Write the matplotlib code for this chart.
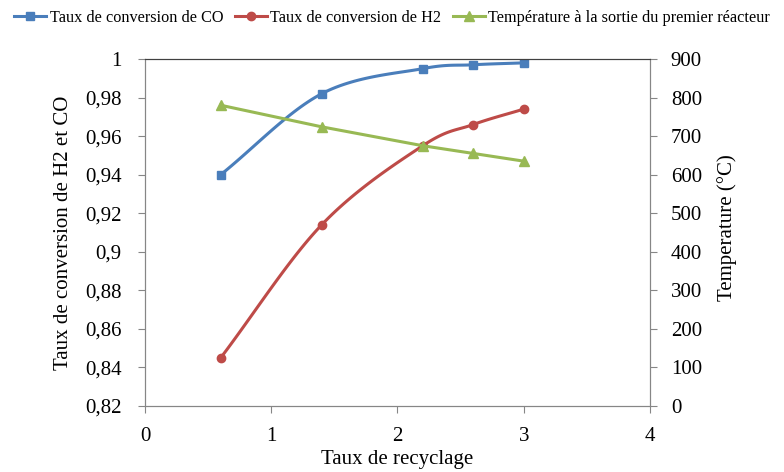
import numpy as np
import matplotlib
matplotlib.use('Agg')
import matplotlib.pyplot as plt
from matplotlib.ticker import FuncFormatter, MultipleLocator

plt.rcParams['font.family'] = ['Liberation Serif', 'DejaVu Serif']

# data
recyclage = [0.6, 1.4, 2.2, 2.6, 3.0]
conv_co = [0.940, 0.982, 0.995, 0.997, 0.998]
conv_h2 = [0.845, 0.914, 0.955, 0.966, 0.974]
temperature = [780, 724, 675, 655, 635]

blue = '#4A7EBB'
red = '#BE4B48'
green = '#98B954'
grey = '#868686'


def smooth(x, y, n=30):
    # Catmull-Rom curve through the points (like Excel "smoothed line")
    x = np.asarray(x, float)
    y = np.asarray(y, float)
    px = np.concatenate([[2 * x[0] - x[1]], x, [2 * x[-1] - x[-2]]])
    py = np.concatenate([[2 * y[0] - y[1]], y, [2 * y[-1] - y[-2]]])
    t = np.linspace(0, 1, n)
    xs, ys = [], []
    for i in range(1, len(px) - 2):
        for p, out in ((px, xs), (py, ys)):
            p0, p1, p2, p3 = p[i - 1], p[i], p[i + 1], p[i + 2]
            out.append(0.5 * (2 * p1 + (-p0 + p2) * t
                              + (2 * p0 - 5 * p1 + 4 * p2 - p3) * t ** 2
                              + (-p0 + 3 * p1 - 3 * p2 + p3) * t ** 3))
    return np.concatenate(xs), np.concatenate(ys)


fig = plt.figure(figsize=(7.84, 4.72), dpi=100)
ax = fig.add_axes([0.185, 0.140, 0.644, 0.735])
ax2 = ax.twinx()

sx, sy = smooth(recyclage, conv_co)
ax.plot(sx, sy, color=blue, lw=2.2)
ax.plot(recyclage, conv_co, 's', color=blue, ms=6)
sx, sy = smooth(recyclage, conv_h2)
ax.plot(sx, sy, color=red, lw=2.2)
ax.plot(recyclage, conv_h2, 'o', color=red, ms=6)
ax2.plot(recyclage, temperature, '-^', color=green, lw=2.2, ms=7)

ax.set_xlim(0, 4)
ax.set_ylim(0.82, 1.0)
ax2.set_ylim(0, 900)
ax.xaxis.set_major_locator(MultipleLocator(1))
ax.yaxis.set_major_locator(MultipleLocator(0.02))
ax2.yaxis.set_major_locator(MultipleLocator(100))

comma = FuncFormatter(lambda v, p: ('%g' % round(v, 3)).replace('.', ','))
ax.yaxis.set_major_formatter(comma)

for a in (ax, ax2):
    for s in ('left', 'right', 'bottom'):
        a.spines[s].set_color(grey)
    a.spines['top'].set_color('#404040')
    a.tick_params(colors=grey, labelcolor='black', labelsize=15, length=5)
ax.tick_params(axis='y', pad=12)
ax.tick_params(axis='x', pad=10)
ax2.tick_params(axis='y', pad=10)

ax.set_xlabel('Taux de recyclage', fontsize=15)
ax.set_ylabel('Taux de conversion de H2 et CO', fontsize=15)
ax2.set_ylabel('Temperature (°C)', fontsize=15)
ax.yaxis.set_label_coords(-0.142, 0.5)
ax2.yaxis.set_label_coords(1.134, 0.515)
ax.xaxis.set_label_coords(0.5, -0.128)

handles = [
    plt.Line2D([], [], color=blue, lw=2.2, marker='s', ms=6),
    plt.Line2D([], [], color=red, lw=2.2, marker='o', ms=6),
    plt.Line2D([], [], color=green, lw=2.2, marker='^', ms=7),
]
labels = ['Taux de conversion de CO', 'Taux de conversion de H2',
          'Température à la sortie du premier réacteur']
fig.legend(handles, labels, loc='upper center', bbox_to_anchor=(0.5, 1.01),
           ncol=3, frameon=False, fontsize=11.7, handlelength=2.0,
           handletextpad=0.2, columnspacing=0.7)

fig.savefig('out.png', dpi=100)
